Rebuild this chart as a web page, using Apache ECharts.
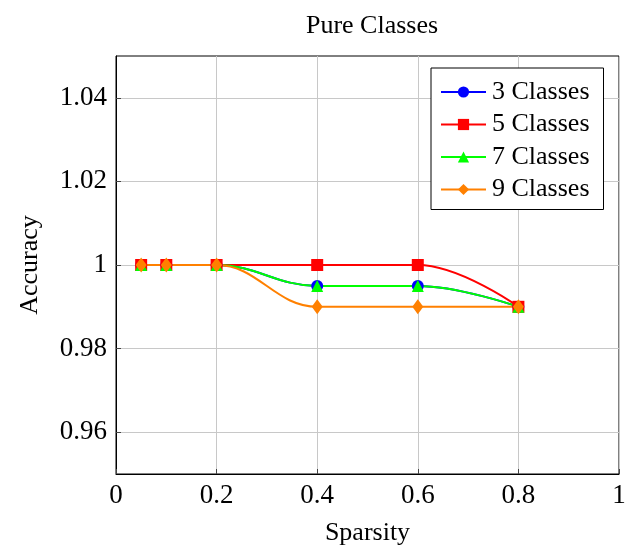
<!DOCTYPE html>
<html>
<head>
<meta charset="utf-8">
<script src="https://cdn.jsdelivr.net/npm/echarts@6/dist/echarts.min.js"></script>
<style>html,body{margin:0;padding:0;background:#fff;}#c{width:627px;height:546px;}</style>
</head>
<body>
<div id="c"></div>
<script>
const sparsity = [0.05, 0.1, 0.2, 0.4, 0.6, 0.8];
const classes3 = [1, 1, 1, 0.995, 0.995, 0.99];
const classes5 = [1, 1, 1, 1, 1, 0.99];
const classes7 = [1, 1, 1, 0.995, 0.995, 0.99];
const classes9 = [1, 1, 1, 0.99, 0.99, 0.99];
const yTicks = [0.96, 0.98, 1, 1.02, 1.04];
const xTicks = [0, 0.2, 0.4, 0.6, 0.8, 1];

const font = '"Liberation Serif", "DejaVu Serif", serif';
function pairs(ys) { return sparsity.map((x, i) => [x, ys[i]]); }
function mk(name, ys, color, symbol, size) {
  return {
    name: name, type: 'line', data: pairs(ys), smooth: 0.4,
    symbol: symbol, symbolSize: size,
    lineStyle: { color: color, width: 2 },
    itemStyle: { color: color },
    emphasis: { disabled: true }
  };
}
const chart = echarts.init(document.getElementById('c'), null, { renderer: 'canvas' });
chart.setOption({
  animation: false,
  backgroundColor: '#fff',
  title: {
    text: 'Pure Classes', left: 367, top: 8, textAlign: 'center',
    textStyle: { fontFamily: font, fontSize: 26, fontWeight: 'normal', color: '#000' }
  },
  grid: { left: 116, right: 8, top: 56, bottom: 72, show: true, borderColor: '#000', borderWidth: 1, containLabel: false, outerBoundsMode: 'none' },
  legend: {
    orient: 'vertical', left: 431, top: 68,
    backgroundColor: '#fff', borderColor: '#000', borderWidth: 1, borderRadius: 0,
    padding: [11, 14, 7, 9], itemGap: 6.5, itemWidth: 45, itemHeight: 14,
    textStyle: { fontFamily: font, fontSize: 26, color: '#000', lineHeight: 22, padding: [0, 0, 0, 1] },
    data: ['3 Classes', '5 Classes', '7 Classes', '9 Classes']
  },
  xAxis: {
    type: 'value', min: 0, max: 1, interval: 0.2,
    name: 'Sparsity', nameLocation: 'middle', nameGap: 46,
    nameTextStyle: { fontFamily: font, fontSize: 26, color: '#000' },
    axisLine: { show: true, lineStyle: { color: '#000', width: 1 } },
    axisTick: { show: true, inside: true, length: 5, lineStyle: { color: '#444' } },
    axisLabel: { fontFamily: font, fontSize: 27, color: '#000', margin: 8, formatter: v => String(+v.toFixed(2)) },
    splitLine: { show: true, lineStyle: { color: '#c8c8c8', width: 1 } }
  },
  yAxis: {
    type: 'value', min: 0.95, max: 1.05,
    name: 'Accuracy', nameLocation: 'middle', nameGap: 73, nameRotate: 90,
    nameTextStyle: { fontFamily: font, fontSize: 26, color: '#000' },
    axisLine: { show: true, lineStyle: { color: '#000', width: 1 } },
    axisTick: { show: true, inside: true, length: 5, customValues: yTicks, lineStyle: { color: '#444' } },
    axisLabel: { fontFamily: font, fontSize: 27, color: '#000', margin: 9, customValues: yTicks, formatter: v => String(+v.toFixed(2)) },
    splitLine: { show: true, lineStyle: { color: '#c8c8c8', width: 1 } }
  },
  series: [
    mk('3 Classes', classes3, '#0000ff', 'circle', 12),
    mk('5 Classes', classes5, '#ff0000', 'rect', 12),
    mk('7 Classes', classes7, '#00ff00', 'triangle', 12),
    mk('9 Classes', classes9, '#ff8000', 'diamond', [11, 15])
  ]
});
</script>
</body>
</html>
